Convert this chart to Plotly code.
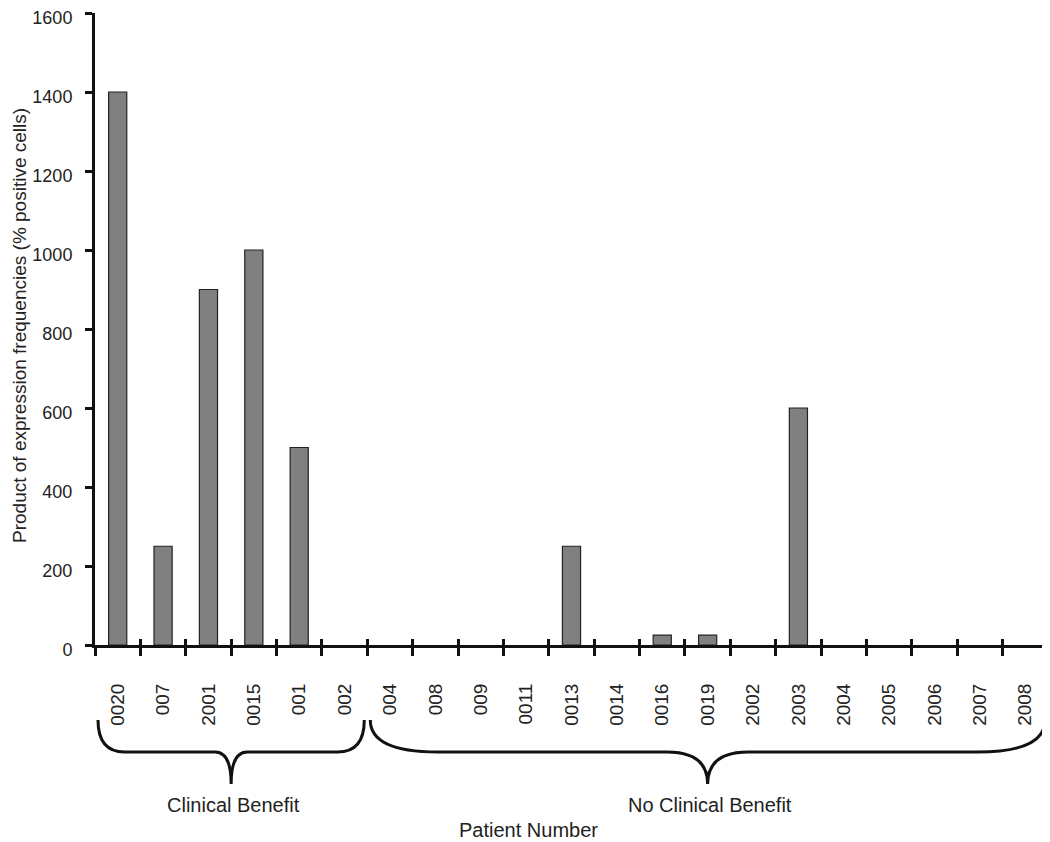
import plotly.graph_objects as go

# ---- data ----
patients = ["0020", "007", "2001", "0015", "001", "002", "004", "008", "009", "0011",
            "0013", "0014", "0016", "0019", "2002", "2003", "2004", "2005", "2006", "2007", "2008"]
values = [1400, 250, 900, 1000, 500, 0, 0, 0, 0, 0,
          250, 0, 25, 25, 0, 600, 0, 0, 0, 0, 0]
group_names = ["Clinical Benefit", "No Clinical Benefit"]
group_sizes = [6, 15]
y_ticks = [0, 200, 400, 600, 800, 1000, 1200, 1400, 1600]
y_title = "Product of expression frequencies (% positive cells)"
x_title = "Patient Number"

# ---- layout geometry (page pixels; the page body adds an 8px offset) ----
OFF = 8
W, H = 1050 - OFF, 842 - OFF
L, R, T, B = 95 - OFF, 1048 - OFF, 13 - OFF, 645 - OFF
FONT = "Liberation Sans, Arial, sans-serif"
TXT = "#222222"
n = len(patients)


def px_x(px):
    return (px - OFF - L) / (R - L)


def px_y(py):
    return (B - (py - OFF)) / (B - T)


def boundary_px(idx_edge):
    # page x of a category boundary given in index units (e.g. -0.5)
    return L + OFF + (idx_edge + 0.5) / n * (R - L)


fig = go.Figure()
fig.add_trace(go.Bar(
    x=patients, y=values,
    marker=dict(color="#808080",
                line=dict(color="#222222", width=[1.2 if v else 0 for v in values])),
    showlegend=False, hoverinfo="x+y",
))
# invisible trace to carry the inside half of the crossing tick marks
fig.add_trace(go.Bar(
    x=patients, y=[0] * n, xaxis="x2",
    marker=dict(opacity=0, line=dict(width=0)),
    showlegend=False, hoverinfo="skip",
))

shapes = []
annotations = []
start = 0
for name, size in zip(group_names, group_sizes):
    x0 = boundary_px(start - 0.5) + 3
    x1 = boundary_px(start + size - 0.5) - 3
    w = x1 - x0
    xc = (x0 + x1) / 2
    er = 0.1 * w
    tr = 0.06 * w
    y_top, y_mid, y_tip = 720, 752, 784

    def P(px, py):
        return f"{px_x(px):.5f},{px_y(py):.5f}"

    path = (f"M {P(x0, y_top)} Q {P(x0, y_mid)} {P(x0 + er, y_mid)} "
            f"L {P(xc - tr, y_mid)} Q {P(xc, y_mid)} {P(xc, y_tip)} "
            f"Q {P(xc, y_mid)} {P(xc + tr, y_mid)} "
            f"L {P(x1 - er, y_mid)} Q {P(x1, y_mid)} {P(x1, y_top)}")
    shapes.append(dict(type="path", xref="paper", yref="paper", path=path,
                       line=dict(color="#111111", width=3)))
    annotations.append(dict(xref="paper", yref="paper", x=px_x(xc + 2), y=px_y(805),
                            text=name, showarrow=False,
                            font=dict(family=FONT, size=20, color=TXT),
                            xanchor="center", yanchor="middle"))
    start += size

annotations.append(dict(xref="paper", yref="paper", x=px_x(528), y=px_y(830),
                        text=x_title, showarrow=False,
                        font=dict(family=FONT, size=20, color=TXT),
                        xanchor="center", yanchor="middle"))
annotations.append(dict(xref="paper", yref="paper", x=px_x(19), y=px_y(326),
                        text=y_title, showarrow=False, textangle=-90,
                        font=dict(family=FONT, size=19, color=TXT),
                        xanchor="center", yanchor="middle"))

fig.update_layout(
    width=W, height=H,
    margin=dict(l=L, r=W - R, t=T, b=H - B, autoexpand=False),
    paper_bgcolor="white", plot_bgcolor="white",
    bargap=0.6,
    font=dict(family=FONT, size=18, color=TXT),
    xaxis=dict(
        type="category", categoryorder="array", categoryarray=patients,
        range=[-0.5, n - 0.5],
        showline=True, linecolor="#111111", linewidth=3,
        ticks="outside", tickson="boundaries", ticklen=8, tickwidth=3, tickcolor="#111111",
        tickangle=-90, ticklabelstandoff=28,
        tickfont=dict(family=FONT, size=19, color=TXT),
        showgrid=False, zeroline=False, fixedrange=True,
    ),
    xaxis2=dict(
        type="category", categoryorder="array", categoryarray=patients,
        matches="x", overlaying="x", side="bottom",
        ticks="inside", tickson="boundaries", ticklen=6, tickwidth=3, tickcolor="#111111",
        showticklabels=False, showline=False, showgrid=False, zeroline=False,
    ),
    yaxis=dict(
        range=[0, 1600], tickvals=y_ticks, ticktext=[str(v) for v in y_ticks],
        showline=True, linecolor="#111111", linewidth=3,
        ticks="outside", ticklen=7, tickwidth=3, tickcolor="#111111",
        ticklabelstandoff=9, ticklabelshift=5, ticklabeloverflow="allow",
        tickfont=dict(family=FONT, size=18, color=TXT),
        showgrid=False, zeroline=False,
    ),
    shapes=shapes,
    annotations=annotations,
)

fig.write_html("out.html")
